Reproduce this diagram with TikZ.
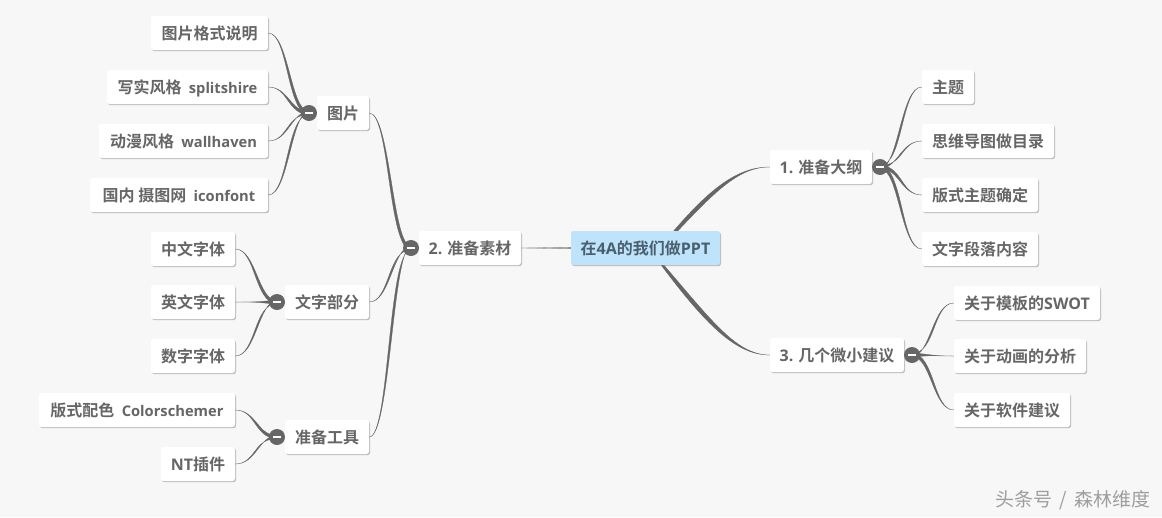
\documentclass[tikz,border=0pt]{standalone}
\usepackage{fontspec}
\setmainfont{Noto Sans CJK SC}[BoldFont=* Bold]
\newfontfamily\latfont{Open Sans}[BoldFont=* Bold]
\newcommand{\lat}[1]{{\latfont #1}}
\newcommand{\latw}[1]{{\latfont\fontsize{14.7}{18}\selectfont #1}}
\usetikzlibrary{calc,shadows,backgrounds}
\definecolor{bgc}{HTML}{F7F7F7}
\definecolor{conn}{HTML}{666666}
\definecolor{rootfill}{HTML}{BEE3FA}
\definecolor{roottext}{HTML}{4A5F6E}
\tikzset{
  box/.style={rectangle,rounded corners=2.5pt,fill=white,text=conn,font=\bfseries\fontsize{16}{18}\selectfont,
    minimum height=34pt,inner sep=0pt,text height=13pt,text depth=1pt,
    drop shadow={shadow xshift=1pt,shadow yshift=-1.2pt,opacity=.4,fill=black!60}},
  rootbox/.style={box,fill=rootfill,text=roottext},
  hub/.style={circle,fill=conn,minimum size=16pt,inner sep=0pt,
    path picture={\fill[white] ([xshift=-4pt,yshift=-1pt]path picture bounding box.center) rectangle ([xshift=4pt,yshift=1pt]path picture bounding box.center);}},
  wire/.style={fill=conn,draw=conn,line width=.3pt,line join=round}
}
% tapered S-curve: thin at #1, thick (half width #3) at #2
\newcommand{\taper}[3]{%
  \path[wire] let \p1=(#1),\p2=(#2),\n1={0.5*\x1+0.5*\x2} in
    (\p1) .. controls (\n1-0.1*#3,\y1) and (\n1-#3,\y2) .. (\x2,\y2-#3)
    -- (\x2,\y2+#3) .. controls (\n1+#3,\y2) and (\n1+0.1*#3,\y1) .. (\p1);}
\begin{document}
\begin{tikzpicture}[x=1pt,y=-1pt]
\useasboundingbox (0,0) rectangle (1162,517);
\coordinate (rootup) at (650,260);
\coordinate (rootdown) at (650,250);
% boxes
\node[rootbox,minimum width=149pt] (root) at (645.5,248) {在\lat{4A}的我们做\lat{PPT}};
\node[box,minimum width=102pt] (sucai) at (470,248) {\lat{2.} 准备素材};
\node[box,minimum width=102pt] (dagang) at (821,167) {\lat{1.} 准备大纲};
\node[box,minimum width=134pt] (jianyi) at (837,355) {\lat{3.} 几个微小建议};
\node[box,minimum width=52pt] (tupian) at (343,113) {图片};
\node[box,minimum width=84pt] (wenzi) at (327,302) {文字部分};
\node[box,minimum width=84pt] (gongju) at (327,437) {准备工具};
\node[box,minimum width=117pt] (l1) at (209.5,33) {图片格式说明};
\node[box,minimum width=161pt] (l2) at (187.5,87) {写实风格\ \ \latw{splitshire}};
\node[box,minimum width=169pt] (l3) at (183.5,141) {动漫风格\ \ \latw{wallhaven}};
\node[box,minimum width=178pt] (l4) at (179,195) {国内 摄图网\ \ \latw{iconfont}};
\node[box,minimum width=84pt] (l5) at (193,249) {中文字体};
\node[box,minimum width=84pt] (l6) at (193,302) {英文字体};
\node[box,minimum width=84pt] (l7) at (193,356) {数字字体};
\node[box,minimum width=196pt] (l8) at (137,410) {版式配色\ \ \latw{Colorschemer}};
\node[box,minimum width=74pt] (l9) at (198,464) {\lat{NT}插件};
\node[box,minimum width=52pt] (r1) at (948,87) {主题};
\node[box,minimum width=132pt] (r2) at (988,141) {思维导图做目录};
\node[box,minimum width=116pt] (r3) at (980,195) {版式主题确定};
\node[box,minimum width=116pt] (r4) at (980,249) {文字段落内容};
\node[box,minimum width=146pt] (r5) at (1027,303) {关于模板的\lat{SWOT}};
\node[box,minimum width=132pt] (r6) at (1020,356) {关于动画的分析};
\node[box,minimum width=116pt] (r7) at (1012,410) {关于软件建议};
% hubs
\node[hub] (h2) at (411,248) {};
\node[hub] (h1) at (880,167) {};
\node[hub] (h3) at (912,355) {};
\node[hub] (ht) at (309,113) {};
\node[hub] (hw) at (277,302) {};
\node[hub] (hg) at (277,437) {};
\node[text=black!38,font=\fontsize{19}{21}\selectfont,anchor=east,inner sep=0pt] (wm) at (1151,500) {头条号\hspace{7.5pt}/\hspace{7.5pt}森林维度};
% connectors, behind the nodes
\begin{scope}[on background layer]
\fill[bgc] (0,0) rectangle (1162,517);
\taper{l1.east}{ht.center}{2.2}
\taper{l2.east}{ht.center}{2.2}
\taper{l3.east}{ht.center}{2.2}
\taper{l4.east}{ht.center}{2.2}
\taper{l5.east}{hw.center}{2.2}
\taper{l6.east}{hw.center}{2.2}
\taper{l7.east}{hw.center}{2.2}
\taper{l8.east}{hg.center}{2.2}
\taper{l9.east}{hg.center}{2.2}
\taper{tupian.east}{h2.center}{2.4}
\taper{wenzi.east}{h2.center}{2.4}
\taper{gongju.east}{h2.center}{2.4}
\taper{r1.west}{h1.center}{2.2}
\taper{r2.west}{h1.center}{2.2}
\taper{r3.west}{h1.center}{2.2}
\taper{r4.west}{h1.center}{2.2}
\taper{r5.west}{h3.center}{2.2}
\taper{r6.west}{h3.center}{2.2}
\taper{r7.west}{h3.center}{2.2}
\path[wire,draw=conn!70,fill=conn!70] (sucai.east) -- ([yshift=-.8pt]root.west) -- ([yshift=.8pt]root.west) -- cycle;
\path[wire] (dagang.west) .. controls (735,167) and (704,191) .. (rootup.center)
  -- ([xshift=6pt,yshift=6pt]rootup.center) .. controls (710,197) and (735,167) .. (dagang.west);
\path[wire] (jianyi.west) .. controls (735,355) and (704,324) .. (rootdown.center)
  -- ([xshift=6pt,yshift=-6pt]rootdown.center) .. controls (710,318) and (735,355) .. (jianyi.west);
\end{scope}
\end{tikzpicture}
\end{document}
